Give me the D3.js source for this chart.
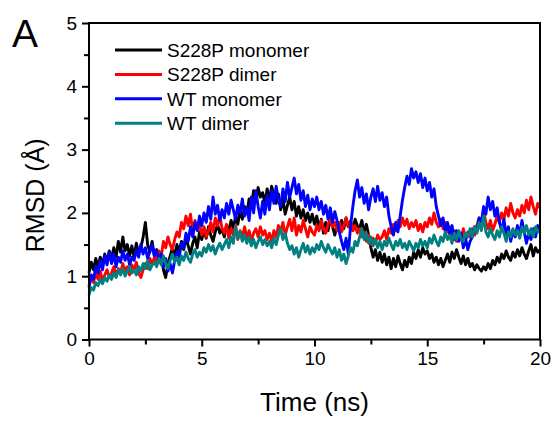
<!DOCTYPE html>
<html>
<head>
<meta charset="utf-8">
<script src="https://cdn.jsdelivr.net/npm/d3@7"></script>
<style>
  html, body { margin: 0; padding: 0; background: #fff; }
  svg { display: block; font-family: "Liberation Sans", Arial, sans-serif; }
</style>
</head>
<body>
<svg id="chart" width="557" height="421"></svg>
<script>
// ---- data (RMSD in Å, sampled every 0.1 ns) ----
const seriesNames = ["S228P monomer", "S228P dimer", "WT monomer", "WT dimer"];
const seriesColors = ["#000000", "#ff0000", "#0000ff", "#008080"];
const timeStep = 0.1;
const xTicks = [0, 5, 10, 15, 20];
const yTicks = [0, 1, 2, 3, 4, 5];

const s228pMonomer = [
  1.05,1.22,1.10,1.28,1.15,1.30,1.18,1.35,1.22,1.40,
  1.28,1.45,1.30,1.55,1.38,1.62,1.40,1.50,1.32,1.48,
  1.30,1.52,1.36,1.45,1.62,1.85,1.50,1.38,1.55,1.32,
  1.42,1.25,1.35,1.10,0.98,1.20,1.32,1.45,1.30,1.50,
  1.38,1.55,1.42,1.60,1.48,1.35,1.52,1.62,1.45,1.70,
  1.58,1.72,1.60,1.78,1.65,1.55,1.70,1.82,1.68,1.75,
  1.62,1.80,1.72,1.88,1.75,1.95,1.82,2.05,1.90,2.10,
  2.00,2.22,2.10,2.35,2.18,2.40,2.25,2.32,2.15,2.38,
  2.20,2.42,2.28,2.15,2.30,2.05,2.22,1.98,2.12,2.25,
  2.05,2.18,1.95,2.10,1.92,2.05,1.88,2.00,1.85,1.98,
  1.82,1.95,1.75,1.90,1.68,1.85,1.72,1.92,1.78,1.65,
  1.80,1.70,1.88,1.75,1.92,1.78,1.85,1.72,1.90,1.80,
  1.75,1.88,1.70,1.82,1.65,1.45,1.30,1.42,1.25,1.38,
  1.22,1.35,1.18,1.30,1.12,1.28,1.15,1.32,1.20,1.10,
  1.25,1.15,1.30,1.20,1.38,1.28,1.42,1.30,1.45,1.35,
  1.40,1.28,1.35,1.22,1.30,1.18,1.28,1.15,1.25,1.35,
  1.22,1.38,1.28,1.42,1.30,1.20,1.32,1.18,1.28,1.15,
  1.20,1.10,1.18,1.12,1.08,1.15,1.10,1.20,1.12,1.25,
  1.18,1.30,1.22,1.35,1.28,1.40,1.30,1.25,1.38,1.30,
  1.42,1.32,1.45,1.35,1.28,1.40,1.50,1.32,1.45,1.38,1.42
];
const s228pDimer = [
  0.85,0.98,0.90,1.05,0.95,1.08,0.92,1.02,1.10,0.98,
  1.05,1.15,1.00,1.12,1.05,1.20,1.08,1.15,1.02,1.18,
  1.10,1.22,1.05,0.98,1.10,1.20,1.12,1.28,1.18,1.30,
  1.22,1.40,1.30,1.55,1.45,1.62,1.50,1.42,1.58,1.70,
  1.62,1.85,1.75,1.95,1.80,1.98,1.70,1.88,1.75,1.82,
  1.65,1.78,1.62,1.72,1.85,1.70,1.92,1.80,1.96,1.75,
  1.68,1.82,1.60,1.75,1.65,1.80,1.58,1.72,1.62,1.78,
  1.60,1.72,1.55,1.68,1.75,1.62,1.78,1.65,1.72,1.58,
  1.68,1.55,1.72,1.62,1.80,1.70,1.85,1.65,1.78,1.90,
  1.72,1.92,1.65,1.80,1.70,1.88,1.75,1.62,1.78,1.70,
  1.65,1.80,1.72,1.88,1.75,1.68,1.82,1.90,1.78,1.85,
  1.72,1.85,1.70,1.80,1.92,1.78,1.88,1.72,1.80,1.68,
  1.75,1.62,1.70,1.55,1.65,1.50,1.60,1.52,1.65,1.58,
  1.62,1.72,1.58,1.75,1.68,1.82,1.72,1.88,1.78,1.92,
  1.80,1.90,1.75,1.85,1.78,1.88,1.72,1.82,1.70,1.85,
  1.78,1.92,1.82,2.00,1.85,1.78,1.90,1.75,1.85,1.70,
  1.78,1.62,1.72,1.55,1.68,1.60,1.75,1.58,1.70,1.62,
  1.75,1.65,1.80,1.92,1.78,2.02,1.85,1.75,1.88,1.72,
  1.82,1.95,1.85,2.00,1.90,2.08,1.95,2.15,2.00,1.92,
  2.05,1.95,2.12,2.00,2.20,2.05,2.25,2.10,1.98,2.15,2.08
];
const wtMonomer = [
  0.82,1.02,0.95,1.15,1.05,1.25,1.10,1.32,1.18,1.38,
  1.20,1.35,1.15,1.30,1.22,1.40,1.25,1.35,1.18,1.30,
  1.25,1.42,1.30,1.50,1.35,1.45,1.28,1.40,1.50,1.32,
  1.40,1.25,1.35,1.15,1.28,1.08,1.20,1.05,1.25,1.38,
  1.30,1.52,1.45,1.68,1.55,1.78,1.62,1.85,1.72,1.95,
  1.80,2.00,1.85,2.10,1.90,2.25,1.98,2.12,1.88,2.05,
  1.92,2.15,1.98,2.20,2.05,1.90,2.12,2.00,2.22,1.95,
  2.08,1.88,2.25,2.00,2.35,2.10,1.92,2.18,1.98,2.28,
  2.05,2.35,2.15,2.42,2.20,2.10,2.38,2.18,2.48,2.25,
  2.40,2.55,2.30,2.45,2.20,2.35,2.10,2.28,2.05,2.22,
  2.10,2.25,2.05,2.18,1.98,2.12,1.90,2.08,1.85,2.02,
  1.88,1.70,1.55,1.42,1.60,1.35,1.80,2.10,2.35,2.52,
  2.25,2.40,2.15,2.30,2.05,2.25,2.38,2.18,2.42,2.20,
  2.32,2.10,2.25,1.95,1.78,1.65,1.85,1.70,1.95,2.20,
  2.40,2.58,2.45,2.70,2.55,2.65,2.48,2.62,2.40,2.55,
  2.35,2.48,2.25,2.38,2.10,1.95,1.80,1.92,1.70,1.85,
  1.65,1.80,1.58,1.72,1.55,1.68,1.45,1.60,1.42,1.55,
  1.62,1.78,1.70,1.92,1.85,2.10,1.98,2.25,2.05,2.18,
  1.95,2.08,1.85,1.72,1.90,1.65,1.78,1.55,1.72,1.62,
  1.80,1.65,1.88,1.70,1.52,1.68,1.58,1.75,1.62,1.80,1.68
];
const wtDimer = [
  0.70,0.82,0.78,0.90,0.85,0.95,0.88,0.98,0.92,1.02,
  0.95,1.05,0.98,1.10,1.02,1.12,1.00,1.08,1.15,1.05,
  1.10,1.02,1.15,1.08,1.20,1.12,1.25,1.10,1.18,1.22,
  1.15,1.28,1.18,1.32,1.20,1.12,1.25,1.35,1.22,1.30,
  1.18,1.32,1.25,1.38,1.28,1.22,1.35,1.42,1.30,1.38,
  1.32,1.45,1.38,1.50,1.40,1.48,1.35,1.45,1.52,1.42,
  1.50,1.58,1.45,1.62,1.52,1.78,1.60,1.70,1.55,1.65,
  1.52,1.62,1.48,1.58,1.45,1.55,1.62,1.50,1.58,1.48,
  1.55,1.45,1.60,1.50,1.65,1.75,1.58,1.68,1.52,1.42,
  1.48,1.35,1.45,1.30,1.42,1.52,1.38,1.48,1.35,1.45,
  1.38,1.50,1.42,1.55,1.45,1.38,1.50,1.42,1.35,1.45,
  1.30,1.42,1.25,1.35,1.20,1.32,1.45,1.38,1.55,1.48,
  1.62,1.75,1.58,1.68,1.52,1.62,1.48,1.58,1.45,1.55,
  1.42,1.55,1.48,1.60,1.50,1.42,1.55,1.48,1.58,1.45,
  1.52,1.42,1.55,1.48,1.40,1.52,1.45,1.58,1.48,1.55,
  1.45,1.60,1.52,1.65,1.55,1.48,1.62,1.55,1.70,1.58,
  1.65,1.52,1.68,1.58,1.72,1.60,1.55,1.68,1.62,1.75,
  1.62,1.78,1.68,1.85,1.72,1.95,1.70,1.62,1.75,1.65,
  1.58,1.72,1.62,1.78,1.68,1.55,1.70,1.62,1.75,1.65,
  1.72,1.60,1.78,1.68,1.80,1.65,1.75,1.62,1.78,1.70,1.75
];
const seriesValues = [s228pMonomer, s228pDimer, wtMonomer, wtDimer];

// ---- layout ----
const svg = d3.select("#chart");
const mLeft = 89, mRight = 540, mTop = 23, mBottom = 339.5;

const x = d3.scaleLinear().domain([0, 20]).range([mLeft, mRight]);
const y = d3.scaleLinear().domain([0, 5]).range([mBottom, mTop]);

// series lines
const line = d3.line()
  .x((d, i) => x(i * timeStep))
  .y(d => y(d));

const plot = svg.append("g");
seriesValues.forEach((vals, k) => {
  plot.append("path")
    .datum(vals)
    .attr("fill", "none")
    .attr("stroke", seriesColors[k])
    .attr("stroke-width", 2.9)
    .attr("stroke-linejoin", "round")
    .attr("d", line);
});

// frame
svg.append("rect")
  .attr("x", mLeft).attr("y", mTop)
  .attr("width", mRight - mLeft).attr("height", mBottom - mTop)
  .attr("fill", "none").attr("stroke", "#000").attr("stroke-width", 2);

// axes
const xAxis = d3.axisBottom(x).tickValues(xTicks).tickSize(7).tickPadding(5).tickFormat(d3.format("d"));
const xMinor = d3.axisBottom(x).tickValues([2.5, 7.5, 12.5, 17.5]).tickSize(5).tickFormat("");
const yAxis = d3.axisLeft(y).tickValues(yTicks).tickSize(7).tickPadding(5).tickFormat(d3.format("d"));
const yMinor = d3.axisLeft(y).tickValues([0.5, 1.5, 2.5, 3.5, 4.5]).tickSize(5).tickFormat("");

function styleAxis(g) {
  g.select(".domain").remove();
  g.selectAll(".tick line").attr("stroke", "#000").attr("stroke-width", 2);
  g.selectAll(".tick text")
    .attr("fill", "#000")
    .style("font-size", "19px")
    .style("font-family", "'Liberation Sans', Arial, sans-serif");
}

svg.append("g").attr("transform", `translate(0,${mBottom})`).call(xAxis).call(styleAxis);
svg.append("g").attr("transform", `translate(0,${mBottom})`).call(xMinor).call(styleAxis);
svg.append("g").attr("transform", `translate(${mLeft},0)`).call(yAxis).call(styleAxis);
svg.append("g").attr("transform", `translate(${mLeft},0)`).call(yMinor).call(styleAxis);

// axis titles
svg.append("text")
  .attr("x", (mLeft + mRight) / 2).attr("y", 411)
  .attr("text-anchor", "middle")
  .style("font-size", "26px")
  .text("Time (ns)");

svg.append("text")
  .attr("transform", `translate(44,${(mTop + mBottom) / 2 + 14}) rotate(-90)`)
  .attr("text-anchor", "middle")
  .style("font-size", "25px")
  .text("RMSD (Å)");

// panel label
svg.append("text")
  .attr("x", 12).attr("y", 47)
  .style("font-size", "39px")
  .text("A");

// legend
const legend = svg.append("g");
seriesNames.forEach((name, k) => {
  const ly = 50 + k * 24.4;
  legend.append("line")
    .attr("x1", 115).attr("x2", 162)
    .attr("y1", ly).attr("y2", ly)
    .attr("stroke", seriesColors[k]).attr("stroke-width", 3);
  legend.append("text")
    .attr("x", 167).attr("y", ly + 7)
    .style("font-size", "19px")
    .text(name);
});
</script>
</body>
</html>
